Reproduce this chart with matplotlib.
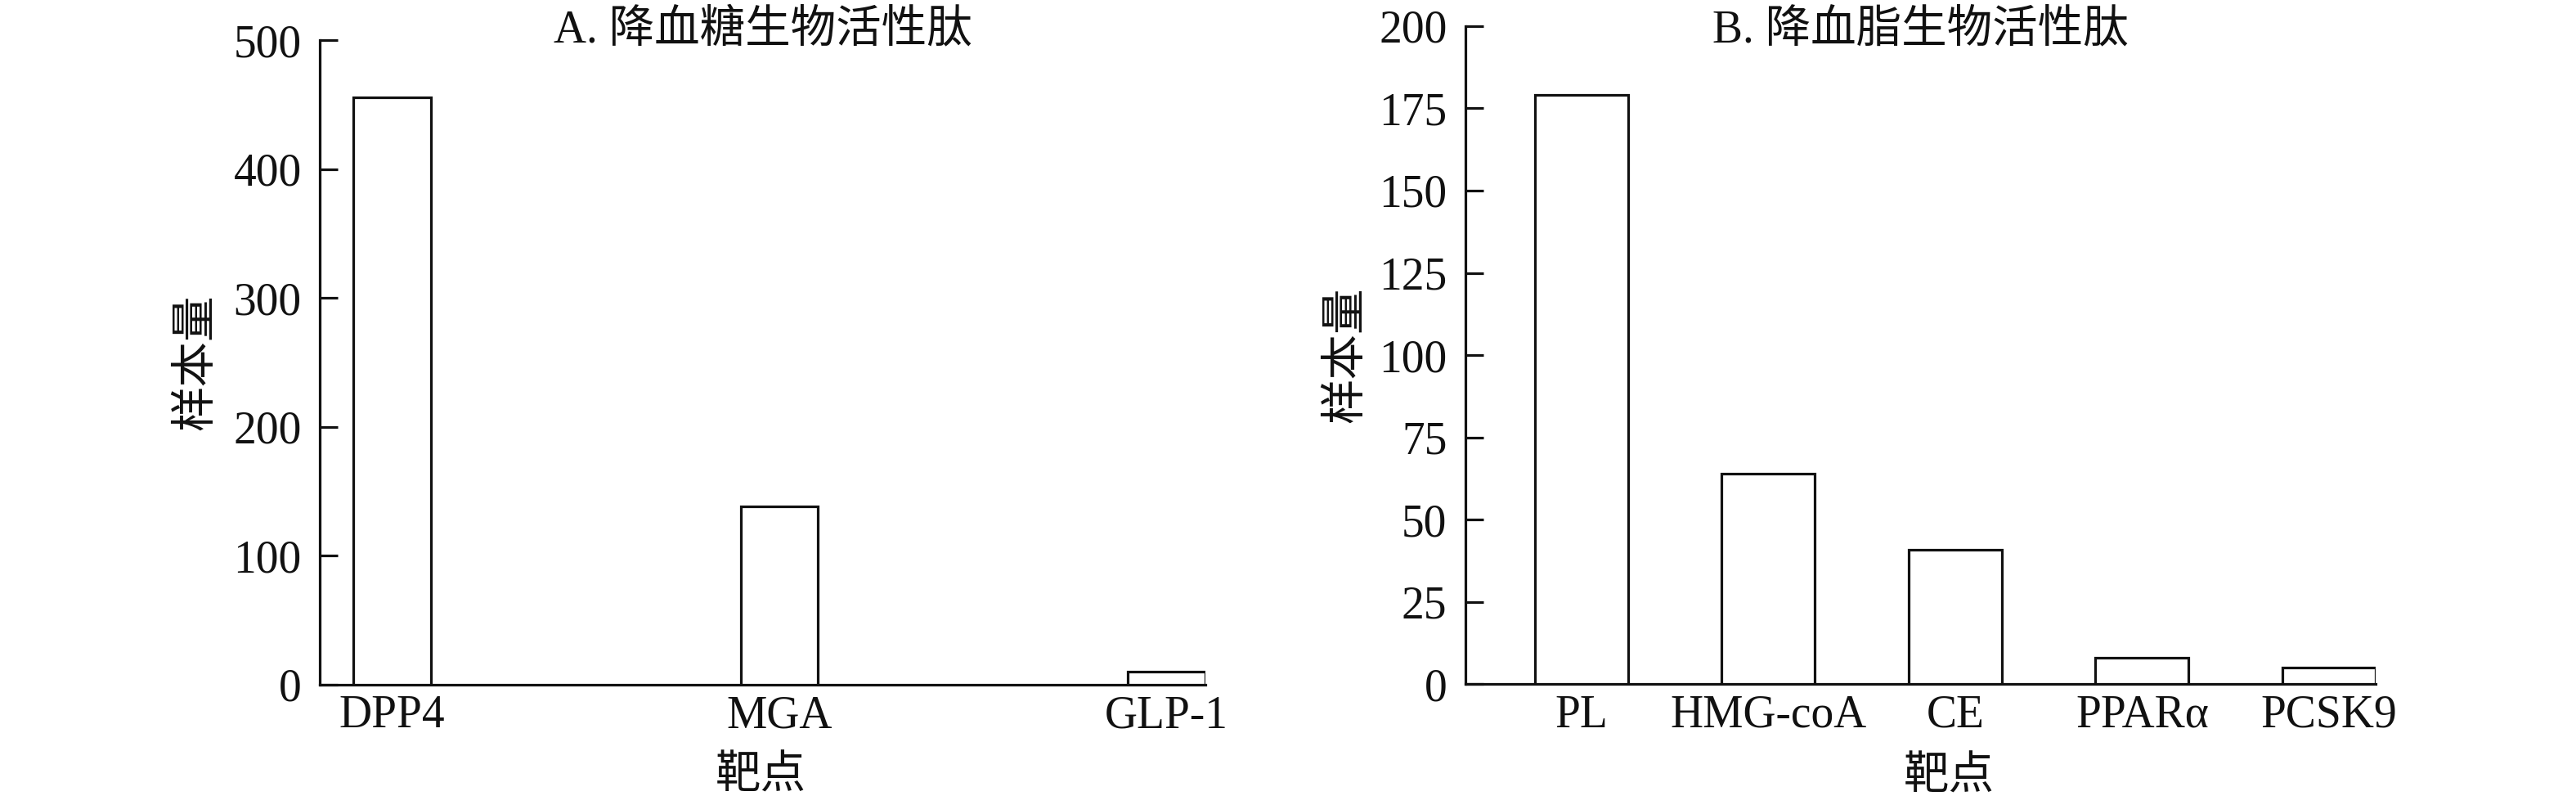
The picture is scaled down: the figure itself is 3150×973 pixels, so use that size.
import matplotlib
matplotlib.use('Agg')
import matplotlib.pyplot as plt

plt.rcParams['font.family'] = ['Liberation Serif', 'Noto Sans CJK SC']
plt.rcParams['axes.unicode_minus'] = False

# 数据
targets_a = ['DPP4', 'MGA', 'GLP-1']
counts_a = [456, 138, 10]
targets_b = ['PL', 'HMG-coA', 'CE', 'PPARα', 'PCSK9']
counts_b = [179, 64, 41, 8, 5]

title_a = 'A. 降血糖生物活性肽'
title_b = 'B. 降血脂生物活性肽'
ylabel = '样本量'
xlabel = '靶点'

FS = 40
LW = 2.3


def style_axes(ax, yticks):
    ax.spines['top'].set_visible(False)
    ax.spines['right'].set_visible(False)
    for s in ('left', 'bottom'):
        ax.spines[s].set_linewidth(LW)
        ax.spines[s].set_color('#111111')
    ax.set_yticks(yticks)
    ax.set_ylim(yticks[0], yticks[-1])
    ax.tick_params(axis='y', direction='in', length=15.6, width=LW,
                   pad=16, labelsize=FS, colors='#111111')
    ax.tick_params(axis='x', length=0, pad=9, labelsize=FS, colors='#111111')


def draw_panel(ax, cats, vals, width, xlim, yticks, title, title_y,
               xlab_coords, ylab_coords):
    x = list(range(len(cats)))
    ax.bar(x, vals, width=width, facecolor='white', edgecolor='#111111',
           linewidth=LW, zorder=3)
    ax.set_xticks(x)
    ax.set_xticklabels(cats)
    ax.set_xlim(*xlim)
    style_axes(ax, yticks)
    ax.text(0.5, title_y, title, transform=ax.transAxes, ha='center',
            va='baseline', fontsize=FS, color='#111111')
    ax.set_ylabel(ylabel, fontsize=FS, color='#111111', va='center')
    ax.yaxis.set_label_coords(*ylab_coords)
    ax.set_xlabel(xlabel, fontsize=FS, color='#111111')
    ax.xaxis.set_label_coords(*xlab_coords)


fig = plt.figure(figsize=(31.5, 9.73), dpi=100)
ax1 = fig.add_axes([0.1241, 0.1401, 0.3438, 0.8093])
ax2 = fig.add_axes([0.5688, 0.1403, 0.3534, 0.8271])

draw_panel(ax1, targets_a, counts_a, 0.2, (-0.187, 2.1),
           [0, 100, 200, 300, 400, 500], title_a, 0.9966,
           (0.498, -0.111), (-0.1385, 0.5))
draw_panel(ax2, targets_b, counts_b, 0.5, (-0.622, 4.25),
           [0, 25, 50, 75, 100, 125, 150, 175, 200], title_b, 0.975,
           (0.531, -0.109), (-0.130, 0.5))

fig.savefig('out.png', dpi=100, facecolor='white')
